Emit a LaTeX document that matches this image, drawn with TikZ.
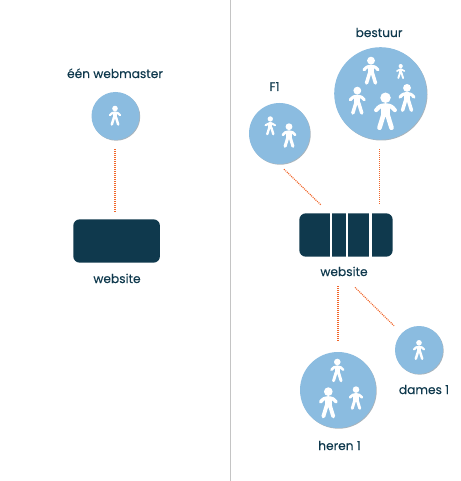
\documentclass[tikz,border=0pt]{standalone}
\usepackage{fontspec}
\setmainfont{Poppins}[FakeBold=0.25]
\usetikzlibrary{calc}
\definecolor{navy}{HTML}{0F394D}
\definecolor{skyblue}{HTML}{8BBCE0}
\definecolor{ringshade}{HTML}{A9B4BC}
\definecolor{dotorange}{HTML}{F0662A}
\definecolor{rulegray}{HTML}{C4C4C4}
\tikzset{
  x=1pt,y=-1pt,
  team/.style={circle,fill=skyblue,inner sep=0pt,minimum size=#1,
    preaction={draw=none,fill=ringshade,transform canvas={xshift=.7pt,yshift=-.7pt}}},
  sitebox/.style={rectangle,rounded corners=6.5pt,fill=navy,inner sep=0pt,minimum width=#1,minimum height=43.4pt},
  caption/.style={text=navy,font=\fontsize{12.2}{14}\selectfont,inner sep=0pt,anchor=base},
  link/.style={dotorange,line width=1.2pt,dash pattern=on 1pt off 1pt},
  divider/.style={draw=white,line width=2.4pt},
  person/.pic={
    \fill[white] (0,.14*#1) circle[radius=.14*#1];
    \draw[white,line width=.11*#1 pt,line cap=round,line join=round]
      (-.25*#1,.47*#1) .. controls (-.15*#1,.36*#1) .. (0,.34*#1) .. controls (.15*#1,.36*#1) .. (.25*#1,.47*#1);
    \draw[white,line width=.22*#1 pt,line cap=butt] (0,.36*#1) -- (0,.6*#1);
    \draw[white,line width=.125*#1 pt,line cap=round]
      (-.05*#1,.58*#1) -- (-.16*#1,.94*#1) (.05*#1,.58*#1) -- (.16*#1,.94*#1);
  }
}
\begin{document}
\begin{tikzpicture}
\useasboundingbox (0,0) rectangle (460,481);
\coordinate (ruleTop) at (230.5,0);
\coordinate (ruleBot) at (230.5,481);
\draw[rulegray,line width=1pt] (ruleTop) -- (ruleBot);

% left side
\node[team=48pt] (master) at (115.5,116) {};
\node[sitebox=86.7pt] (siteA) at (116.6,241) {};
\node[caption] (tMaster) at (115,78) {één webmaster};
\node[caption] (tSiteA) at (117,283) {website};
\draw[link,line width=1.5pt] ([xshift=-.3pt,yshift=-9.2pt]master.south) -- ([xshift=-.3pt,yshift=7pt]siteA.north -| master.south);

% right side
\node[team=92.6pt] (bestuur) at (380.5,93.5) {};
\node[team=61pt] (fone) at (279.5,133.5) {};
\node[team=76pt] (heren) at (338,390) {};
\node[team=48pt] (dames) at (419,350) {};
\node[sitebox=93.4pt] (siteB) at (346,235) {};
\draw[divider] (331,213) -- (331,257) (347,213) -- (347,257) (370.3,213) -- (370.3,257);
\node[caption] (tBestuur) at (379,37) {bestuur};
\node[caption] (tFone) at (274.5,91) {F1};
\node[caption] (tSiteB) at (344,276) {website};
\node[caption] (tHeren) at (339.5,450) {heren 1};
\node[caption] (tDames) at (424,394) {dames 1};

\coordinate (fEnd) at ($(siteB.north west)+(21.7,-8.3)$);
\coordinate (fStart) at ($(fone.south)+(4.5,5)$);
\draw[link] (fStart) -- (fEnd);
\draw[link,line width=1.5pt] ([xshift=-.9pt,yshift=-9.4pt]bestuur.south) -- ([xshift=-.9pt,yshift=9pt]siteB.north -| bestuur.south);
\coordinate (hStart) at ($(siteB.south)+(-8,29.5)$);
\draw[link] (hStart) -- ([yshift=10pt]heren.north);
\coordinate (dStart) at ($(siteB.south)+(9,30.5)$);
\coordinate (dEnd) at ($(dames.north)+(-25,0)$);
\draw[link] (dStart) -- (dEnd);

% figures
\pic at (115,105.7) {person=20};
\pic at (385.5,92.5) {person=37.5};
\pic at (371,56.7) {person=28};
\pic at (400.7,64) {person=15};
\pic at (357.3,86.7) {person=28};
\pic at (407,84) {person=28};
\pic at (270.3,116.3) {person=19};
\pic at (289,123.3) {person=24.5};
\pic at (337.3,358.7) {person=23.5};
\pic at (328.3,387.3) {person=31};
\pic at (356,386.3) {person=23.5};
\pic at (419,340) {person=20};
\end{tikzpicture}
\end{document}
